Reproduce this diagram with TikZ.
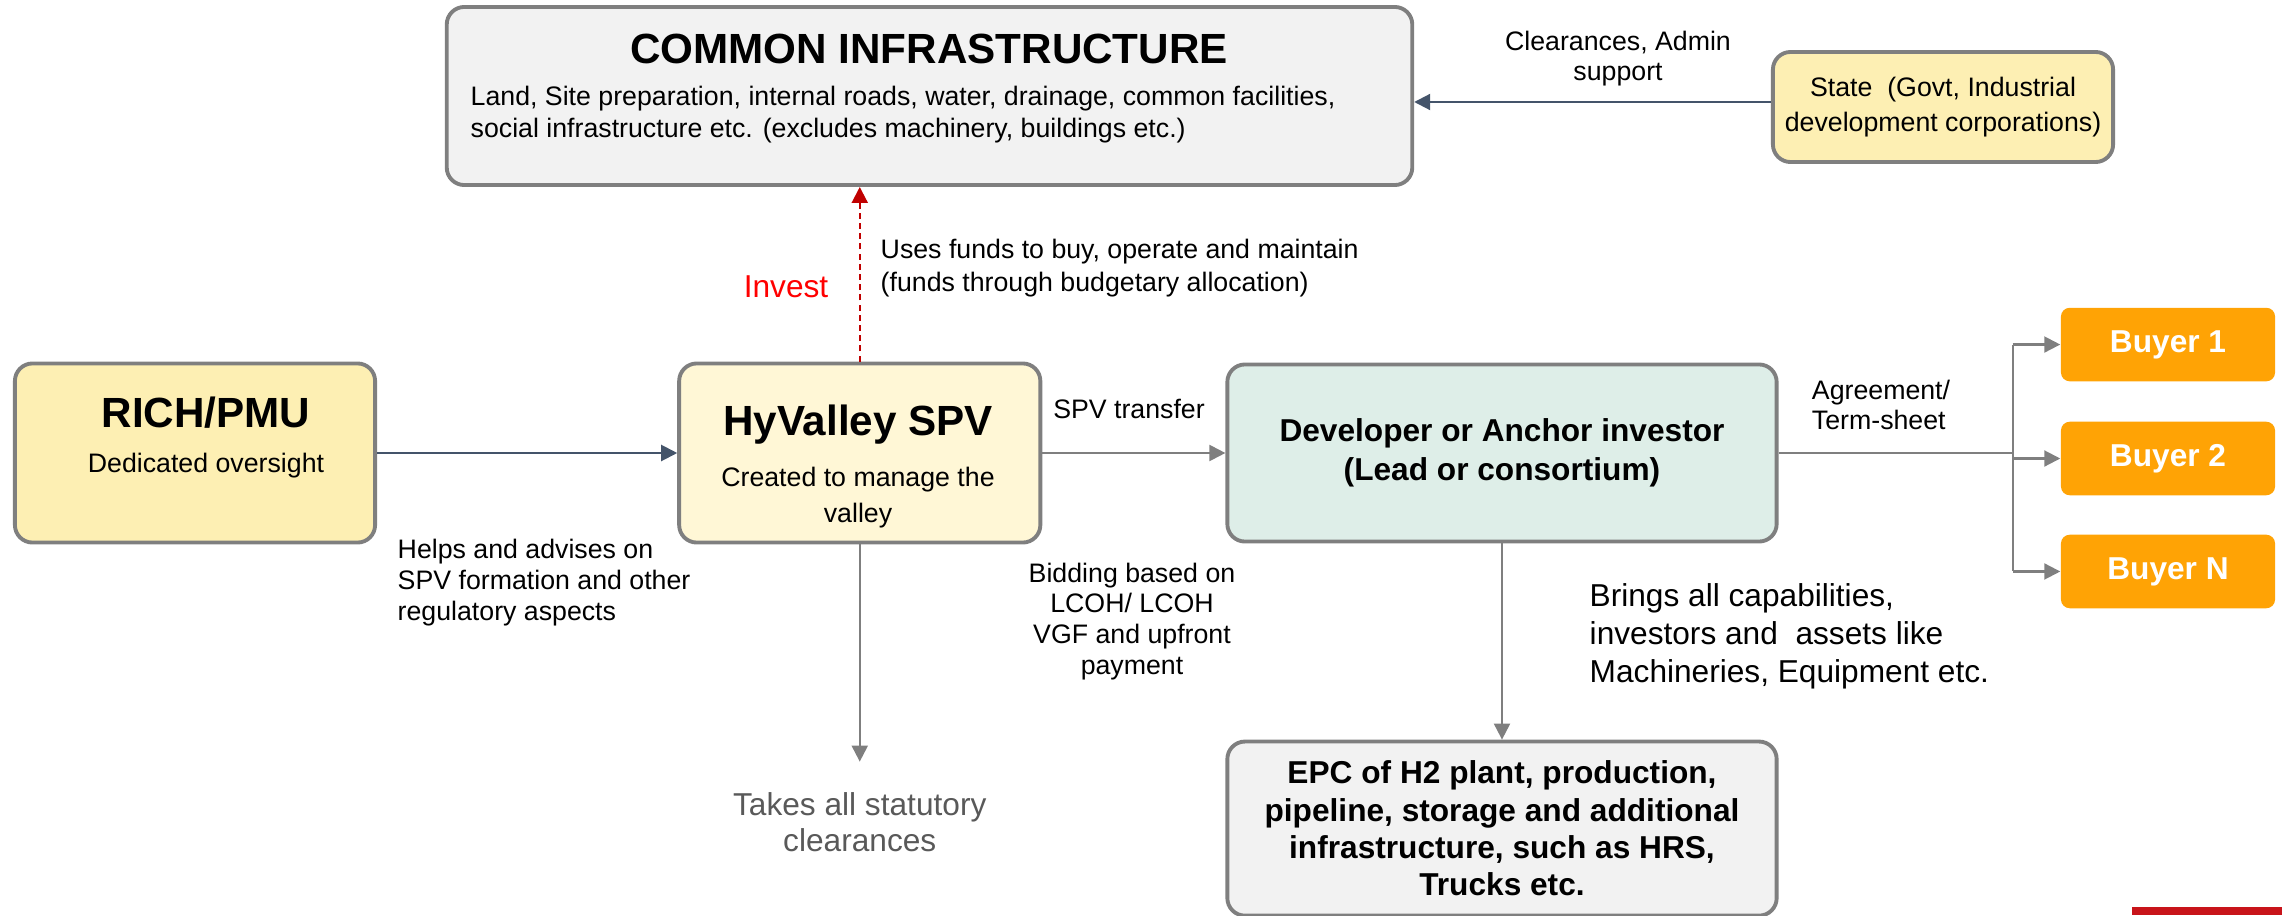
\documentclass[tikz,border=0pt]{standalone}
\usepackage{fontspec}
\setmainfont{Liberation Sans}
\usepackage{xcolor}
\usetikzlibrary{positioning,arrows.meta,calc}

\definecolor{boxline}{HTML}{7F7F7F}
\definecolor{greybox}{HTML}{F2F2F2}
\definecolor{sandbox}{HTML}{FDEFB3}
\definecolor{creambox}{HTML}{FFF7D6}
\definecolor{mintbox}{HTML}{DEEEE8}
\definecolor{buyorange}{HTML}{FFA305}
\definecolor{slate}{HTML}{44546A}
\definecolor{darkred}{HTML}{C00000}
\definecolor{barred}{HTML}{C8141A}

\begin{document}
\begin{tikzpicture}[
    x=0.01cm, y=-0.01cm,
    >={Triangle[length=1.6mm,width=1.6mm]},
    block/.style={draw=boxline, rounded corners=5pt, line width=1.1pt, align=center},
    buyer/.style={fill=buyorange, rounded corners=2.5pt, minimum width=2.14cm, minimum height=0.735cm,
                  font=\fontsize{9}{11}\selectfont\bfseries, text=white},
    head/.style={font=\fontsize{12}{14}\selectfont\bfseries, inner sep=0pt},
    note/.style={font=\fontsize{7.6}{8.8}\selectfont, align=left, inner sep=0pt},
    link/.style={->, draw=boxline, line width=0.6pt},
  ]
    \useasboundingbox (0,0) rectangle (2282,915);

    % boxes
    \node[block, fill=greybox, minimum width=9.65cm, minimum height=1.78cm] (ci) at (929.5,96) {};
    \node[block, fill=sandbox, minimum width=3.40cm, minimum height=1.10cm,
          font=\fontsize{7.6}{10}\selectfont] (st) at (1943,107) {State\ \ (Govt, Industrial\\development corporations)};
    \node[block, fill=sandbox, minimum width=3.60cm, minimum height=1.79cm] (rich) at (195,453) {};
    \node[block, fill=creambox, minimum width=3.61cm, minimum height=1.79cm, right=3.0cm of rich] (spv) {};
    \node[block, fill=mintbox, minimum width=5.49cm, minimum height=1.77cm, right=1.83cm of spv,
          font=\fontsize{9}{11.1}\selectfont\bfseries] (dev) {Developer or Anchor investor\\(Lead or consortium)};
    \node[block, fill=greybox, minimum width=5.49cm, minimum height=1.74cm, below=1.96cm of dev,
          font=\fontsize{9}{10.6}\selectfont\bfseries] (epc)
      {EPC of H2 plant, production,\\pipeline, storage and additional\\infrastructure, such as HRS,\\Trucks etc.};
    \node[buyer] (b2) at (2168,458.5) {Buyer 2};
    \node[buyer, above=0.39cm of b2] (b1) {Buyer 1};
    \node[buyer, below=0.38cm of b2] (bn) {Buyer N};

    % texts inside the boxes
    \node[head] (citl) at (929,49) {COMMON INFRASTRUCTURE};
    \node[note, font=\fontsize{7.6}{9.1}\selectfont, anchor=west] (citx) at (470,115)
      {Land, Site preparation, internal roads, water, drainage, common facilities,\\
       social infrastructure etc. (excludes machinery, buildings etc.)};
    \node[head] (richtl) at (206,413) {RICH/PMU};
    \node[note] (richtx) at (206,466) {Dedicated oversight};
    \node[head] (spvtl) at (858,425) {HyValley SPV};
    \node[note, align=center, font=\fontsize{7.6}{10}\selectfont] (spvtx) at (858,497.5) {Created to manage the\\valley};

    % connectors
    \draw[link, draw=slate] ([yshift=0.05cm]st.west) -- ([yshift=0.05cm]st.west -| ci.east);
    \draw[link, draw=slate] (rich) -- (spv);
    \draw[link] (spv) -- (dev);
    \draw[->, darkred, dashed, dash pattern=on 1.7pt off 1.2pt, line width=0.6pt] (spv.north) -- (spv.north |- ci.south);
    \node[note, align=center, font=\fontsize{9}{10.2}\selectfont, text=black!65, below=2.47cm of spv] (take)
      {Takes all statutory\\clearances};
    \draw[link, shorten >=0.3cm] (spv) -- (take);
    \draw[link] (dev) -- (epc);
    \draw[draw=boxline, line width=0.6pt] (dev.east) -- ++(234,0) coordinate (fork);
    \draw[draw=boxline, line width=0.6pt] (fork |- b1) -- (fork |- bn);
    \foreach \b in {b1,b2,bn} \draw[link] (fork |- \b) -- (\b);

    % labels along the connectors
    \node[note, align=center, font=\fontsize{7.6}{8.3}\selectfont] (clr) at (1618,58.5) {Clearances, Admin\\support};
    \node[note, font=\fontsize{9}{11}\selectfont, text=red] (inv) at (786,287) {Invest};
    \node[note, font=\fontsize{7.6}{9.4}\selectfont, anchor=west] (uses) at (880,268.5)
      {Uses funds to buy, operate and maintain\\(funds through budgetary allocation)};
    \node[note] (xfer) at (1129,409) {SPV transfer};
    \node[note, anchor=west] (helps) at (397,583)
      {Helps and advises on\\SPV formation and other\\regulatory aspects};
    \node[note, align=center] (bid) at (1132,621.5) {Bidding based on\\LCOH/ LCOH\\VGF and upfront\\payment};
    \node[note, font=\fontsize{7.6}{8.5}\selectfont] (agr) at (1881,405) {Agreement/\\Term-sheet};
    \node[note, font=\fontsize{9}{10.8}\selectfont, anchor=west] (brings) at (1589,636)
      {Brings all capabilities,\\investors and\ \ assets like\\Machineries, Equipment etc.};

    \fill[barred] (2132,907) rectangle (2282,915);
\end{tikzpicture}
\end{document}
